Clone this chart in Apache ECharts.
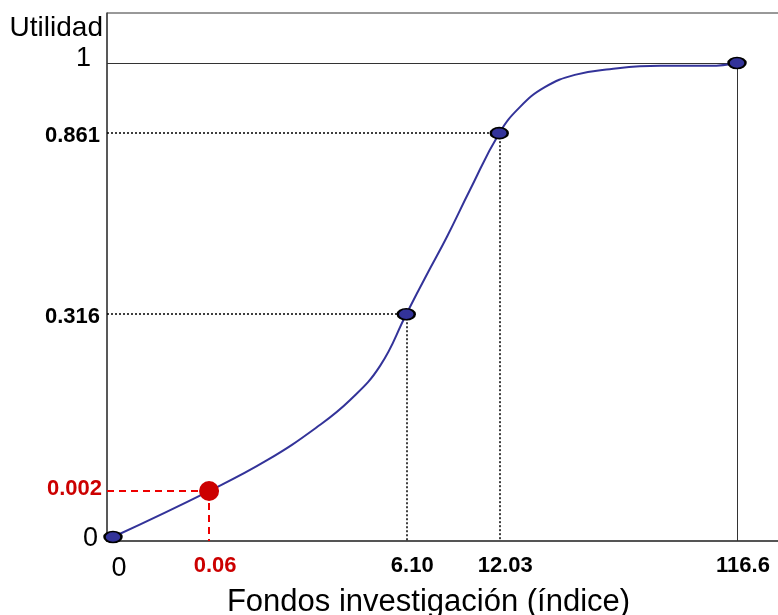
<!DOCTYPE html>
<html><head><meta charset="utf-8">
<script src="https://cdn.jsdelivr.net/npm/echarts@6/dist/echarts.min.js"></script>
<style>html,body{margin:0;padding:0;background:#fff}#c{width:778px;height:615px}</style>
</head><body><div id="c"></div>
<script>
// Schematic positions (the original drawing is not to scale): 0..100 on each axis
const fundLabels = ['0', '0.06', '6.10', '12.03', '116.6'];
const fundPos = [0, 15.4, 47.0, 61.9, 100];
const utilLabels = ['0', '0.002', '0.316', '0.861', '1'];
const utilPos = [0, 9.7, 47.0, 85.2, 100];
// Utility curve (schematic units)
const curveX = [0, 15.4, 24.7, 32.7, 38.0, 42.8, 47.0, 50.3, 53.5, 57.2, 61.9, 65.2, 69.2, 74.0, 79.6, 87.7, 95.7, 100];
const curveY = [0, 9.7, 16.2, 23.2, 28.9, 36.1, 47.0, 55.4, 63.3, 73.2, 85.2, 90.7, 94.9, 97.5, 98.7, 99.4, 99.4, 100];
const highlightIndex = 1;

const FONT = 'Liberation Sans, Arial, Helvetica, sans-serif';
const X_MIN = -0.96, X_MAX = 106.89, Y_MIN = -0.84, Y_MAX = 110.55;

const chart = echarts.init(document.getElementById('c'), null, {renderer: 'canvas'});

const guideLines = [];
for (let i = 1; i < fundPos.length; i++) {
  let ls;
  if (i === highlightIndex) ls = {color: '#ee0000', type: [7, 5], width: 2};
  else if (i === fundPos.length - 1) ls = {color: '#333', type: 'solid', width: 1};
  else ls = {color: '#000', type: [2, 2], width: 1.5};
  guideLines.push([{coord: [X_MIN, utilPos[i]], lineStyle: ls}, {coord: [fundPos[i], utilPos[i]]}]);
  guideLines.push([{coord: [fundPos[i], utilPos[i]], lineStyle: ls}, {coord: [fundPos[i], Y_MIN]}]);
}

const keyPoints = fundPos.map((x, i) => {
  if (i === highlightIndex) {
    return {value: [x, utilPos[i]], symbolSize: 20, itemStyle: {color: '#cc0000', borderWidth: 0, opacity: 1}};
  }
  return {value: [x, utilPos[i]], symbolSize: [17, 11], itemStyle: {color: '#333399', borderColor: '#000', borderWidth: 2, opacity: 1}};
});

const rich = {
  bigx: {fontSize: 27, fontFamily: FONT, color: '#000', lineHeight: 28, padding: [2, 0, 0, 0]},
  big0: {fontSize: 27, fontFamily: FONT, color: '#000', lineHeight: 28, padding: [3, 4, 0, 0]},
  big1: {fontSize: 27, fontFamily: FONT, color: '#000', lineHeight: 28, padding: [0, 11, 8, 0]},
  b: {fontSize: 22, fontWeight: 'bold', fontFamily: FONT, color: '#000', lineHeight: 24},
  by: {fontSize: 22, fontWeight: 'bold', fontFamily: FONT, color: '#000', lineHeight: 24, padding: [6, 2, 0, 0]},
  r: {fontSize: 22, fontWeight: 'bold', fontFamily: FONT, color: '#cc0000', lineHeight: 24},
  ry: {fontSize: 22, fontWeight: 'bold', fontFamily: FONT, color: '#cc0000', lineHeight: 24, padding: [0, 0, 4, 0]}
};

chart.setOption({
  animation: false,
  backgroundColor: '#fff',
  grid: {left: 107, top: 13, right: -2, bottom: 74, show: true, borderColor: '#333', borderWidth: 1, containLabel: false, outerBoundsMode: 'none'},
  xAxis: {
    type: 'value', min: X_MIN, max: X_MAX,
    name: 'Fondos investigación (índice)', nameLocation: 'middle', nameGap: 43,
    nameTextStyle: {fontSize: 31, fontFamily: FONT, color: '#000', padding: [0, 30, 0, 0], verticalAlign: 'top'},
    axisLine: {show: true, onZero: false, lineStyle: {color: '#555', width: 2}},
    axisTick: {show: false},
    splitLine: {show: false},
    axisLabel: {
      customValues: fundPos, margin: 13, padding: [0, 0, 0, 12], verticalAlign: 'top',
      formatter: v => {
        const i = fundPos.indexOf(v);
        if (i < 0) return '';
        const s = i === 0 ? 'bigx' : (i === highlightIndex ? 'r' : 'b');
        return '{' + s + '|' + fundLabels[i] + '}';
      },
      rich: rich
    }
  },
  yAxis: {
    type: 'value', min: Y_MIN, max: Y_MAX,
    name: 'Utilidad', nameLocation: 'end', nameGap: -15,
    nameTextStyle: {fontSize: 28, fontFamily: FONT, color: '#000', align: 'right', verticalAlign: 'middle', padding: [0, 4, 0, 0]},
    axisLine: {show: true, onZero: false, lineStyle: {color: '#444', width: 1.5}},
    axisTick: {show: false},
    splitLine: {show: false},
    axisLabel: {
      customValues: utilPos, margin: 5,
      formatter: v => {
        const i = utilPos.indexOf(v);
        if (i < 0) return '';
        let s;
        if (i === 0) s = 'big0';
        else if (i === utilPos.length - 1) s = 'big1';
        else if (i === highlightIndex) s = 'ry';
        else s = 'by';
        return '{' + s + '|' + utilLabels[i] + '}';
      },
      rich: rich
    }
  },
  series: [
    {
      type: 'line', name: 'curve', smooth: 0.45, symbol: 'none', z: 3,
      lineStyle: {color: '#333399', width: 2},
      data: curveX.map((x, i) => [x, curveY[i]]),
      markLine: {silent: true, symbol: 'none', label: {show: false}, z: 1, data: guideLines}
    },
    {
      type: 'scatter', name: 'points', z: 5, symbol: 'circle',
      data: keyPoints
    }
  ]
});
</script></body></html>
